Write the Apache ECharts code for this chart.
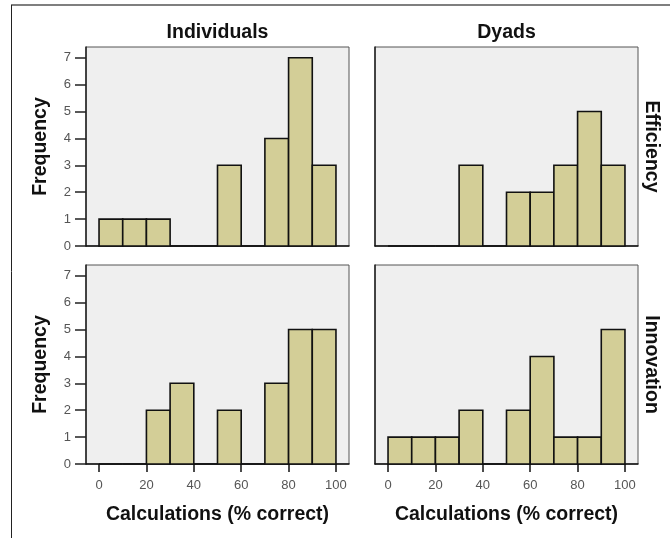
<!DOCTYPE html>
<html>
<head>
<meta charset="utf-8">
<script src="https://cdn.jsdelivr.net/npm/echarts@6/dist/echarts.min.js"></script>
<style>
html,body{margin:0;padding:0;background:#ffffff;}
#main{width:670px;height:538px;}
</style>
</head>
<body>
<div id="main"></div>
<script>
// Bin edges (% correct), width 10
const binStarts = [0, 10, 20, 30, 40, 50, 60, 70, 80, 90];
const binWidth = 10;
// Frequencies per bin
const individualsEfficiency = [1, 1, 1, 0, 0, 3, 0, 4, 7, 3];
const dyadsEfficiency       = [0, 0, 0, 3, 0, 2, 2, 3, 5, 3];
const individualsInnovation = [0, 0, 2, 3, 0, 2, 0, 3, 5, 5];
const dyadsInnovation       = [1, 1, 1, 2, 0, 2, 4, 1, 1, 5];
// Tick labels
const xTicks = [0, 20, 40, 60, 80, 100];
const yTicks = [0, 1, 2, 3, 4, 5, 6, 7];
const columnTitles = ['Individuals', 'Dyads'];
const rowTitles = ['Efficiency', 'Innovation'];
const xTitle = 'Calculations (% correct)';
const yTitle = 'Frequency';

const panels = [
  {counts: individualsEfficiency, left: 86,  top: 47,  isLeft: true,  isBottom: false},
  {counts: dyadsEfficiency,       left: 375, top: 47,  isLeft: false, isBottom: false},
  {counts: individualsInnovation, left: 86,  top: 265, isLeft: true,  isBottom: true},
  {counts: dyadsInnovation,       left: 375, top: 265, isLeft: false, isBottom: true}
];
const PW = 263, PH = 199;
const tickFont = 'Arial, "Liberation Sans", sans-serif';
const boldFont = 'Arial, "Liberation Sans", sans-serif';
const titleSize = 19.5;

const grids = [], xAxes = [], yAxes = [], series = [];
panels.forEach((p, i) => {
  grids.push({left: p.left, top: p.top, width: PW, height: PH, show: true,
    backgroundColor: '#efefef', borderColor: '#555', borderWidth: 1});
  xAxes.push({
    type: 'value', gridIndex: i, min: -5.5, max: 105.5,
    axisLine: {show: true, onZero: false, lineStyle: {color: '#111', width: 1.5}},
    axisTick: {show: p.isBottom, customValues: xTicks, length: 8, lineStyle: {color: '#111', width: 1.5}},
    axisLabel: {show: p.isBottom, customValues: xTicks, margin: 15, color: '#555', fontSize: 13, fontFamily: tickFont},
    splitLine: {show: false},
    name: p.isBottom ? xTitle : '', nameLocation: 'middle', nameGap: 41,
    nameTextStyle: {fontSize: titleSize, fontWeight: 'bold', color: '#111', fontFamily: boldFont}
  });
  yAxes.push({
    type: 'value', gridIndex: i, min: 0, max: 7.4,
    axisLine: {show: true, onZero: false, lineStyle: {color: '#222', width: 1.5}},
    axisTick: {show: p.isLeft, customValues: yTicks, length: 11, lineStyle: {color: '#222', width: 1.5}},
    axisLabel: {show: p.isLeft, customValues: yTicks, margin: 15, color: '#555', fontSize: 13, fontFamily: tickFont},
    splitLine: {show: false},
    name: p.isLeft ? yTitle : '', nameLocation: 'middle', nameGap: 35, nameRotate: 90,
    nameTextStyle: {fontSize: titleSize, fontWeight: 'bold', color: '#111', fontFamily: boldFont}
  });
  series.push({
    type: 'custom', xAxisIndex: i, yAxisIndex: i,
    data: binStarts.map((b, k) => [b, b + binWidth, p.counts[k]]),
    renderItem: function (params, api) {
      const a = api.coord([api.value(0), api.value(2)]);
      const b = api.coord([api.value(1), 0]);
      return {type: 'rect',
        shape: {x: a[0], y: a[1], width: b[0] - a[0], height: b[1] - a[1]},
        style: {fill: '#d3ce97', stroke: '#111', lineWidth: 1.6}};
    },
    encode: {x: [0, 1], y: 2}
  });
});

const chart = echarts.init(document.getElementById('main'));
chart.setOption({
  animation: false,
  backgroundColor: '#ffffff',
  grid: grids, xAxis: xAxes, yAxis: yAxes, series: series,
  graphic: [
    {type: 'line', shape: {x1: 11, y1: 5, x2: 670, y2: 5}, style: {stroke: '#7f7f7f', lineWidth: 2}},
    {type: 'line', shape: {x1: 11.5, y1: 5, x2: 11.5, y2: 538}, style: {stroke: '#222', lineWidth: 1}},
    {type: 'text', x: 86 + PW / 2, y: 33, style: {text: columnTitles[0], fontSize: titleSize, fontWeight: 'bold', fill: '#111', fontFamily: boldFont, align: 'center', verticalAlign: 'middle'}},
    {type: 'text', x: 375 + PW / 2, y: 33, style: {text: columnTitles[1], fontSize: titleSize, fontWeight: 'bold', fill: '#111', fontFamily: boldFont, align: 'center', verticalAlign: 'middle'}},
    {type: 'text', x: 651, y: 47 + PH / 2, rotation: -Math.PI / 2, style: {text: rowTitles[0], fontSize: titleSize, fontWeight: 'bold', fill: '#111', fontFamily: boldFont, align: 'center', verticalAlign: 'middle'}},
    {type: 'text', x: 651, y: 265 + PH / 2, rotation: -Math.PI / 2, style: {text: rowTitles[1], fontSize: titleSize, fontWeight: 'bold', fill: '#111', fontFamily: boldFont, align: 'center', verticalAlign: 'middle'}}
  ]
});
</script>
</body>
</html>
